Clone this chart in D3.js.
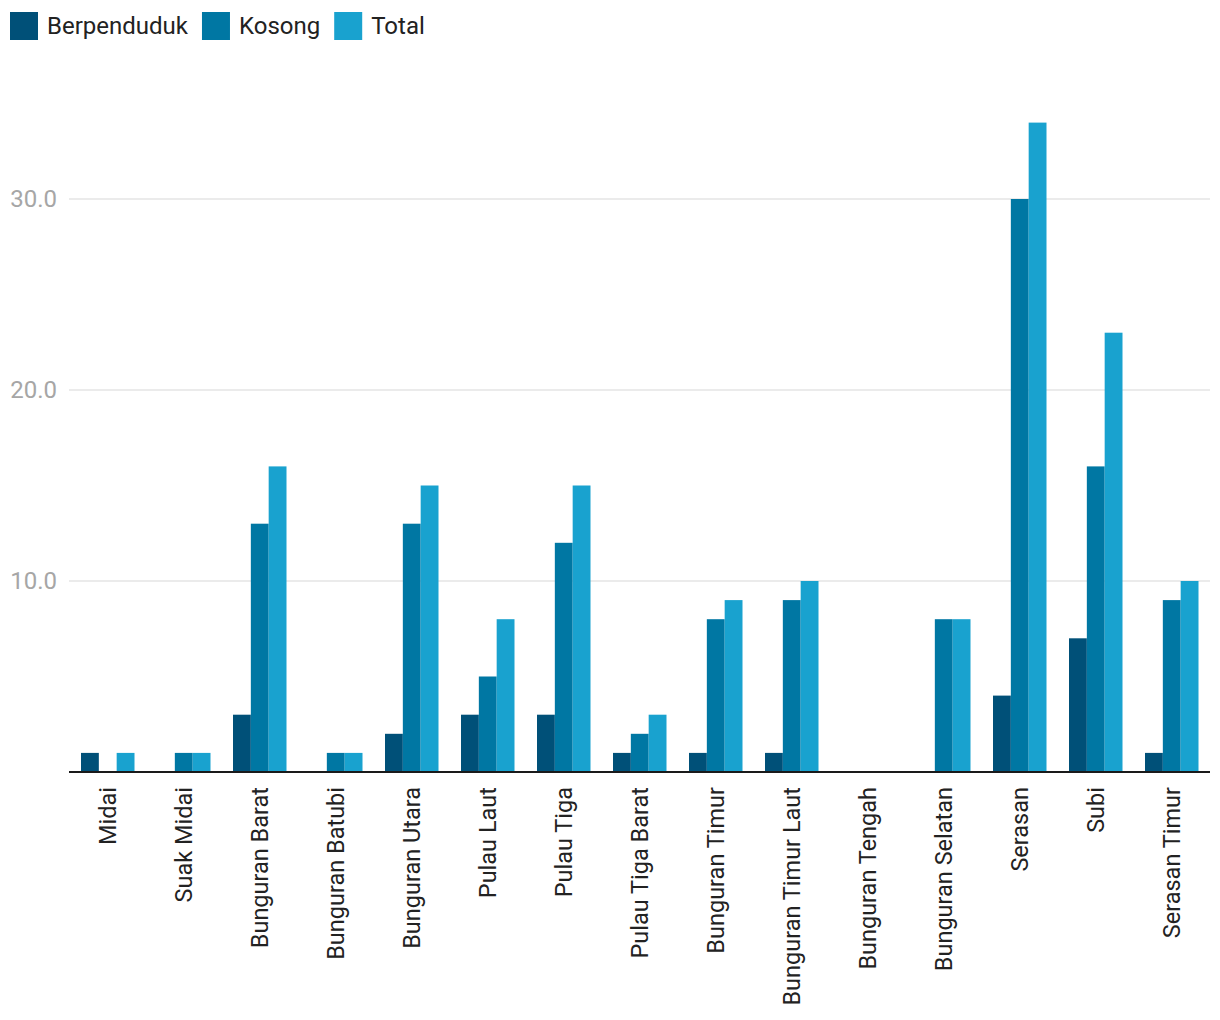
<!DOCTYPE html>
<html><head><meta charset="utf-8">
<script src="https://cdn.jsdelivr.net/npm/d3@7"></script>
<style>body{margin:0;background:#fff;font-family:Roboto,sans-serif;}</style>
</head><body>
<svg id="c" width="1220" height="1020"></svg>
<script>
const categories = ["Midai","Suak Midai","Bunguran Barat","Bunguran Batubi","Bunguran Utara","Pulau Laut","Pulau Tiga","Pulau Tiga Barat","Bunguran Timur","Bunguran Timur Laut","Bunguran Tengah","Bunguran Selatan","Serasan","Subi","Serasan Timur"];
const seriesNames = ["Berpenduduk","Kosong","Total"];
const berpenduduk = [1,0,3,0,2,3,3,1,1,1,0,0,4,7,1];
const kosong = [0,1,13,1,13,5,12,2,8,9,0,8,30,16,9];
const total = [1,1,16,1,15,8,15,3,9,10,0,8,34,23,10];
const yTicks = [10,20,30];
const colors = ["#005078","#0077a3","#19a2cf"];

const series = [berpenduduk, kosong, total];
const svg = d3.select("#c");
const x = d3.scaleBand().domain(categories).range([70,1210]);
const xs = d3.scaleBand().domain(seriesNames).range([11,64.5]);
const y = d3.scaleLinear().domain([0,36]).range([772,772-36*19.1]);

// gridlines
svg.append("g").selectAll("line").data(yTicks).join("line")
  .attr("x1",69).attr("x2",1210).attr("y1",d=>y(d)).attr("y2",d=>y(d))
  .attr("stroke","#e5e5e5").attr("stroke-width",1.5);
svg.append("g").selectAll("text").data(yTicks).join("text")
  .attr("x",57).attr("y",d=>y(d)).attr("dy","0.35em").attr("text-anchor","end")
  .attr("fill","#a6a6a6").attr("font-size",24).text(d=>d.toFixed(1));

// bars
const g = svg.append("g");
seriesNames.forEach((s,si)=>{
  g.append("g").selectAll("rect").data(categories.map((c,i)=>({c,v:series[si][i]})))
    .join("rect")
    .attr("x",d=>x(d.c)+xs(s)).attr("width",xs.bandwidth())
    .attr("y",d=>y(d.v)).attr("height",d=>y(0)-y(d.v))
    .attr("fill",colors[si]);
});

// axis line
svg.append("line").attr("x1",69).attr("x2",1210).attr("y1",772).attr("y2",772)
  .attr("stroke","#1a1a1a").attr("stroke-width",2);

// x labels
svg.append("g").selectAll("text").data(categories).join("text")
  .attr("transform",d=>`translate(${x(d)+x.bandwidth()/2},787) rotate(-90)`)
  .attr("text-anchor","end").attr("dy","0.35em")
  .attr("fill","#222").attr("font-size",23.5).text(d=>d);

// legend
const lg = svg.append("g");
let lx = 10;
seriesNames.forEach((s,i)=>{
  lg.append("rect").attr("x",lx).attr("y",12).attr("width",28).attr("height",28).attr("fill",colors[i]);
  const t = lg.append("text").attr("x",lx+37).attr("y",26).attr("dy","0.35em")
    .attr("font-size",24).attr("fill","#222").text(s);
  lx += 37 + t.node().getComputedTextLength() + 14;
});
</script>
</body></html>
